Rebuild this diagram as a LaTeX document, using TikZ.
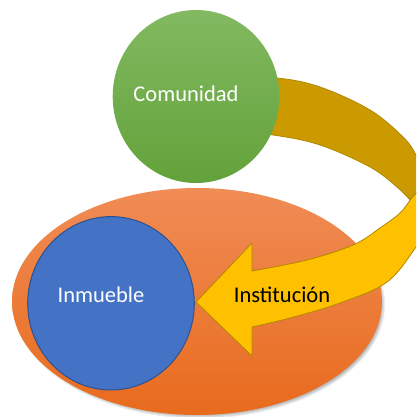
\documentclass[tikz,border=0pt]{standalone}
\usepackage{fontspec}
\setmainfont{Carlito}
\usetikzlibrary{shapes.geometric}
\definecolor{orTop}{RGB}{240,140,86}
\definecolor{orBot}{RGB}{232,107,29}
\definecolor{grTop}{RGB}{130,185,97}
\definecolor{grBot}{RGB}{99,162,58}
\definecolor{blueFill}{RGB}{68,114,196}
\definecolor{blueEdge}{RGB}{47,82,143}
\definecolor{goldDark}{RGB}{202,154,0}
\definecolor{goldEdge}{RGB}{176,136,0}
\definecolor{goldBright}{RGB}{255,192,0}
\tikzset{
  blob/.style={ellipse, inner sep=0pt, outer sep=0pt},
  lbl/.style={font=\fontsize{22.5}{27}\selectfont, inner sep=0pt, anchor=base},
}
\begin{document}
\begin{tikzpicture}[x=1pt,y=-1pt]
\useasboundingbox (0,0) rectangle (416,417);
\clip (0,0) rectangle (416,417);
% shadow of the orange ellipse
\foreach \k in {0,1,2,3,4}{
  \fill[black, opacity=0.07] (199.5,304.5) ellipse ({185.5-\k} and {114-\k});
}
% orange ellipse
\node[blob, minimum width=370pt, minimum height=227pt, top color=orTop, bottom color=orBot] (inst) at (197,301.5) {};
% blue circle
\node[blob, minimum width=166.6pt, minimum height=173.4pt, fill=blueFill, draw=blueEdge, line width=1pt] (inm) at (111,303.3) {};
% curved arrow: back face
\fill[goldDark, draw=goldEdge, line width=0.8pt, line join=round]
  plot[smooth, tension=0.6] coordinates {(228,77) (277,78) (320,87) (370,110) (403,137) (416,155) (427,181)}
  -- plot[smooth, tension=0.6] coordinates {(410,200) (397,187) (370,167) (320,145) (273,135) (228,131)}
  -- cycle;
% curved arrow: front face with head
\fill[goldBright, draw=goldEdge, line width=0.8pt, line join=round]
  plot[smooth, tension=0.6] coordinates {(427,181) (431,205) (426,230) (416,247) (387,282) (340,303) (290,318) (252,327)}
  -- (252,356) -- (196,302) -- (252,243)
  -- plot[smooth, tension=0.6] coordinates {(252,271) (307,260) (353,245) (380,228) (400,213) (410,200)}
  -- cycle;
% green circle
\node[blob, minimum width=166.6pt, minimum height=173pt, top color=grTop, bottom color=grBot] (com) at (196,96.5) {};
% labels
\node[lbl, text=white] (comlbl) at (186,102) {Comunidad};
\node[lbl, text=white] (inmlbl) at (101,302) {Inmueble};
\node[lbl, text=black] (instlbl) at (282,302) {Institución};
\end{tikzpicture}
\end{document}
